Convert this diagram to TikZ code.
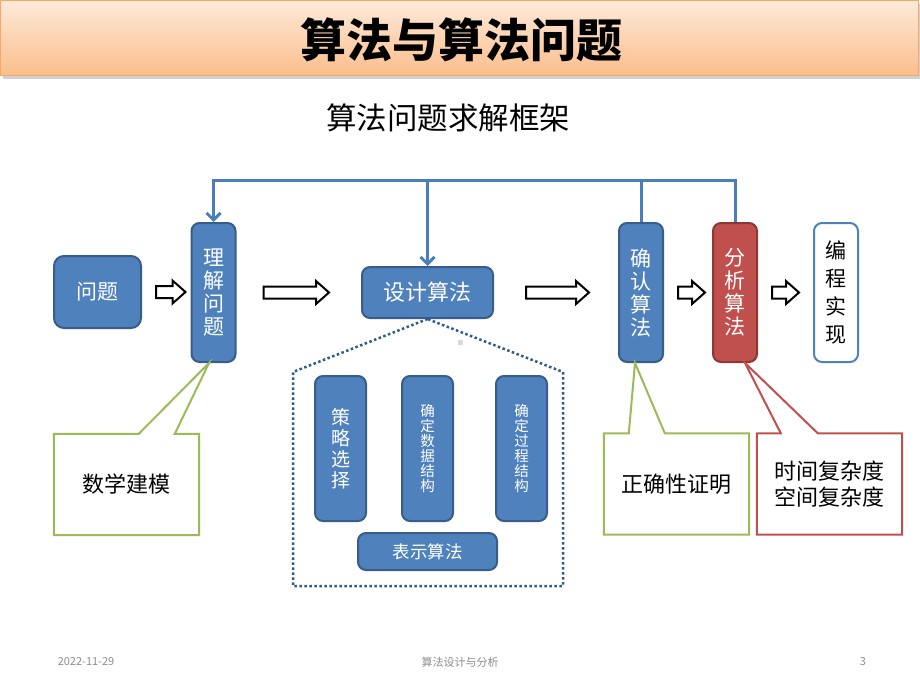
\documentclass[tikz,border=0pt]{standalone}
\usepackage{fontspec}
\setmainfont{Noto Sans CJK SC}
\usetikzlibrary{calc,arrows.meta}
\definecolor{boxblue}{HTML}{4F81BD}
\definecolor{edgeblue}{HTML}{385D8A}
\definecolor{boxred}{HTML}{C0504D}
\definecolor{edgered}{HTML}{8C3836}
\definecolor{notegreen}{HTML}{9BBB59}
\definecolor{linkblue}{HTML}{4A7EBB}
\definecolor{dotblue}{HTML}{2F5A8C}
\definecolor{bartop}{HTML}{FDEADA}
\definecolor{barbot}{HTML}{FBBE8C}
\definecolor{baredge}{HTML}{F6A868}

\begin{document}
\begin{tikzpicture}[x=1pt,y=-1pt]
\tikzstyle{every node}+=[inner sep=0pt]
\tikzstyle{blk}=[draw=edgeblue,fill=boxblue,line width=2pt,rounded corners=8pt,text=white,align=center]
\tikzstyle{tall}=[minimum width=44pt,minimum height=139pt,font=\fontsize{21}{23}\selectfont]
\tikzstyle{inner}=[blk,minimum width=51pt,minimum height=145pt]
\tikzstyle{note}=[minimum width=145pt,minimum height=101pt,font=\fontsize{22}{26}\selectfont,align=center]
\tikzstyle{fb}=[draw=linkblue,line width=3pt]
\tikzstyle{hollow}=[draw=black,line width=2pt,fill=white,to path={let \p1=(\tikztostart),\p2=(\tikztotarget) in (\x1,\y1+6pt) -- (\x2-13pt,\y1+6pt) -- (\x2-13pt,\y1+11.5pt) -- (\x2,\y1) -- (\x2-13pt,\y1-11.5pt) -- (\x2-13pt,\y1-6pt) -- (\x1,\y1-6pt) -- cycle}]
\useasboundingbox (0,0) rectangle (920,690);
\fill[black!18] (3,4) rectangle (920,79);
\shade[top color=bartop,bottom color=barbot,draw=baredge] (0,0) rectangle (918,75);
\node[font=\fontsize{46}{46}\selectfont\bfseries] (title) at (461,40) {算法与算法问题};
\node[font=\fontsize{30.5}{31}\selectfont] (sub) at (448,118) {算法问题求解框架};
\node[blk,minimum width=87pt,minimum height=72pt,rounded corners=10pt,font=\fontsize{21}{21}\selectfont] (wenti) at (97.5,292) {问题};
\node[blk,tall] (lijie) at (213.5,292.5) {理\\解\\问\\题};
\node[blk,minimum width=131pt,minimum height=51pt,font=\fontsize{22}{22}\selectfont] (sheji) at (427.5,292.5) {设计算法};
\node[blk,tall] (queren) at (641,292.5) {确\\认\\算\\法};
\node[blk,tall,draw=edgered,fill=boxred] (fenxi) at (735,292.5) {分\\析\\算\\法};
\node[blk,tall,draw=boxblue,fill=white,text=black,font=\fontsize{21}{28}\selectfont] (biancheng) at (836,292.5) {编\\程\\实\\现};
\draw[hollow] ([xshift=14pt]wenti.east) to ([xshift=-5pt]lijie.west);
\draw[hollow] ([xshift=27pt]lijie.east) to ([xshift=-32pt]sheji.west);
\draw[hollow] ([xshift=32pt]sheji.east) to ([xshift=-29pt]queren.west);
\draw[hollow] ([xshift=14pt]queren.east) to ([xshift=-7pt]fenxi.west);
\draw[hollow] ([xshift=14pt]fenxi.east) to ([xshift=-14pt]biancheng.west);
\coordinate (top) at (427.5,180);
\draw[fb,-{Straight Barb[length=7pt,width=14pt]}] (fenxi.north) -- (fenxi.north |- top) -| (lijie.north);
\draw[fb] (queren.north) -- (queren.north |- top);
\draw[fb,-{Straight Barb[length=7pt,width=14pt]}] (top) -- (sheji.north);
\draw[dotblue,line width=2.5pt,dash pattern=on 2.5pt off 2.5pt] (sheji.south) -- (293,372) -- (293,586) -- (563,586) -- (563,372) -- cycle;
\node[fill=black!15,minimum size=5pt] (speck) at (460,342) {};
\node[inner,font=\fontsize{19}{21}\selectfont] (celue) at (340.5,448.5) {策\\略\\选\\择};
\node[inner,font=\fontsize{14.5}{15}\selectfont] (shuju) at (427.5,448.5) {确\\定\\数\\据\\结\\构};
\node[inner,font=\fontsize{14.5}{15}\selectfont] (guocheng) at (521.5,448.5) {确\\定\\过\\程\\结\\构};
\node[blk,minimum width=139pt,minimum height=37pt,font=\fontsize{17.5}{18}\selectfont] (biaoshi) at (427.5,551.5) {表示算法};
\node[note] (jianmo) at (126.5,484.5) {数学建模};
\draw[notegreen,line width=2pt] (jianmo.north west) -- ++(85,0) -- ([xshift=-4.5pt]lijie.south) -- ($(jianmo.north west)+(121,0)$) -- (jianmo.north east) -- (jianmo.south east) -- (jianmo.south west) -- cycle;
\node[note] (zhengming) at (676.5,484) {正确性证明};
\draw[notegreen,line width=2pt] (zhengming.north west) -- ++(25,0) -- ([xshift=-6pt]queren.south) -- ($(zhengming.north west)+(61,0)$) -- (zhengming.north east) -- (zhengming.south east) -- (zhengming.south west) -- cycle;
\node[note] (fuza) at (829.5,484) {时间复杂度\\空间复杂度};
\draw[boxred,line width=2pt] (fuza.north west) -- ++(24,0) -- ([xshift=10pt]fenxi.south) -- ($(fuza.north west)+(61,0)$) -- (fuza.north east) -- (fuza.south east) -- (fuza.south west) -- cycle;
\node[font=\fontsize{11}{11}\selectfont,text=black!45] (date) at (86,662) {2022-11-29};
\node[font=\fontsize{11}{11}\selectfont,text=black!45] (course) at (460,662) {算法设计与分析};
\node[font=\fontsize{11}{11}\selectfont,text=black!45] (page) at (863,662) {3};
\end{tikzpicture}
\end{document}
